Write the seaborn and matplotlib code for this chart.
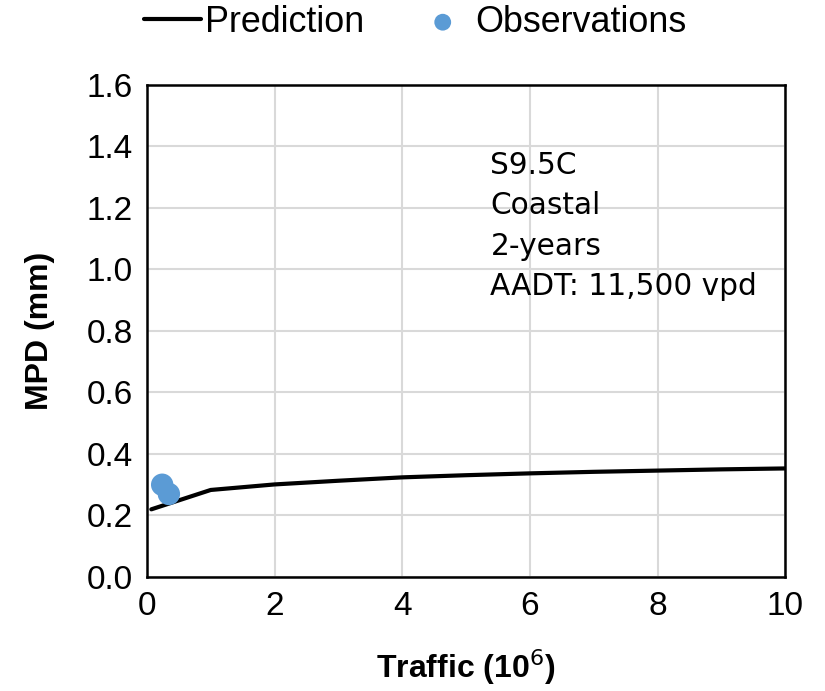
import matplotlib
matplotlib.use("Agg")
import matplotlib.pyplot as plt
import seaborn as sns
import pandas as pd

# Prediction curve (traffic in millions vs. MPD)
pred_traffic = [0.07, 1, 2, 3, 4, 5, 6, 7, 8, 9, 10]
pred_mpd = [0.22, 0.283, 0.301, 0.313, 0.324, 0.331, 0.337, 0.342, 0.346, 0.350, 0.353]

# Field observations
obs_traffic = [0.24, 0.345]
obs_mpd = [0.30, 0.27]

x_ticks = [0, 2, 4, 6, 8, 10]
y_ticks = [0.0, 0.2, 0.4, 0.6, 0.8, 1.0, 1.2, 1.4, 1.6]
notes = ["S9.5C", "Coastal", "2-years", "AADT: 11,500 vpd"]

sns.set_theme(style="white")
plt.rcParams["font.family"] = ["Liberation Sans", "DejaVu Sans"]
plt.rcParams["text.color"] = "black"
plt.rcParams["axes.labelcolor"] = "black"

pred = pd.DataFrame({"traffic": pred_traffic, "mpd": pred_mpd})
obs = pd.DataFrame({"traffic": obs_traffic, "mpd": obs_mpd})

fig = plt.figure(figsize=(8.25, 6.91), dpi=100)
ax = fig.add_axes([0.178, 0.165, 0.774, 0.712])

sns.lineplot(data=pred, x="traffic", y="mpd", ax=ax, color="black", linewidth=3,
             label="Prediction", zorder=3)
sns.scatterplot(data=obs, x="traffic", y="mpd", ax=ax, color="#5B9BD5", s=260,
                edgecolor="none", label="Observations", zorder=4)

ax.set_xlim(0, 10)
ax.set_ylim(0, 1.6)
ax.set_xticks(x_ticks)
ax.set_yticks(y_ticks)
ax.set_xticklabels([str(t) for t in x_ticks])
ax.set_yticklabels([f"{t:.1f}" for t in y_ticks])
ax.tick_params(axis="both", labelsize=24, length=0, pad=10, colors="black")
ax.grid(True, color="#d9d9d9", linewidth=1.5)
ax.set_axisbelow(True)
for sp in ax.spines.values():
    sp.set_color("black")
    sp.set_linewidth(1.8)

ax.set_xlabel("Traffic (10$^6$)", fontsize=23, fontweight="bold", labelpad=18)
ax.set_ylabel("MPD (mm)", fontsize=23, fontweight="bold", labelpad=23)

ax.text(0.538, 0.866, "\n".join(notes), transform=ax.transAxes, fontsize=21.3,
        family="DejaVu Sans", color="black", va="top", ha="left", linespacing=1.5)

handles, labels = ax.get_legend_handles_labels()
ax.get_legend().remove()
fig.legend(handles, labels, loc="center", bbox_to_anchor=(0.503, 0.968), ncol=2,
           frameon=False, fontsize=25.8, handlelength=1.6, handletextpad=0.1,
           columnspacing=1.4, markerscale=0.75, labelcolor="black")

fig.savefig("out.png", dpi=100)
